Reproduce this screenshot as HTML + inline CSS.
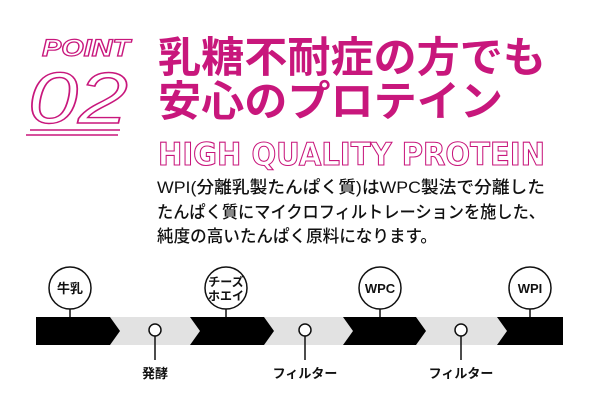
<!DOCTYPE html>
<html><head><meta charset="utf-8"><style>
html,body{margin:0;padding:0;background:#fff;width:600px;height:420px;overflow:hidden}
</style></head><body>
<svg width="600" height="420" viewBox="0 0 600 420" xmlns="http://www.w3.org/2000/svg">
<g font-family="Liberation Sans, Noto Sans CJK JP, sans-serif">
<!-- POINT 02 -->
<text x="42" y="56" font-size="24" font-style="italic" font-weight="bold" fill="#fff" stroke="#c8177c" stroke-width="1.2" textLength="88" lengthAdjust="spacingAndGlyphs">POINT</text>
<text x="28" y="123" font-size="72" font-style="italic" fill="#fff" stroke="#c8177c" stroke-width="1.4" textLength="100" lengthAdjust="spacingAndGlyphs">02</text>
<line x1="30" y1="130" x2="120" y2="130" stroke="#c8177c" stroke-width="1.5"/>
<line x1="26" y1="135" x2="118" y2="135" stroke="#c8177c" stroke-width="1.5"/>
<!-- Title -->
<text x="158" y="72" font-size="42" font-weight="bold" fill="#c8177c" font-family="Noto Sans CJK JP, sans-serif" textLength="388" lengthAdjust="spacingAndGlyphs">乳糖不耐症の方でも</text>
<text x="158" y="116" font-size="42" font-weight="bold" fill="#c8177c" font-family="Noto Sans CJK JP, sans-serif" textLength="345" lengthAdjust="spacingAndGlyphs">安心のプロテイン</text>
<text x="158" y="165" font-size="31" font-weight="bold" fill="#fff" stroke="#c8177c" stroke-width="1.1" font-family="DejaVu Sans, sans-serif" textLength="387" lengthAdjust="spacingAndGlyphs">HIGH QUALITY PROTEIN</text>
<!-- Body -->
<g font-size="17" fill="#111" font-family="Liberation Sans, Noto Sans CJK JP, sans-serif" font-weight="500">
<text x="157" y="193" textLength="388" lengthAdjust="spacingAndGlyphs">WPI(分離乳製たんぱく質)はWPC製法で分離した</text>
<text x="157" y="218" textLength="388" lengthAdjust="spacingAndGlyphs">たんぱく質にマイクロフィルトレーションを施した、</text>
<text x="157" y="242" textLength="280" lengthAdjust="spacingAndGlyphs">純度の高いたんぱく原料になります。</text>
</g>
<!-- Band -->
<g fill="#e2e2e2">
<polygon points="105,317 195,317 205,331 195,345 105,345 115,331"/>
<polygon points="260,317 350,317 360,331 350,345 260,345 270,331"/>
<polygon points="412,317 503,317 513,331 503,345 412,345 422,331"/>
</g>
<g fill="#000">
<polygon points="36,317 110,317 120,331 110,345 36,345"/>
<polygon points="190,317 264,317 274,331 264,345 190,345 200,331"/>
<polygon points="343,317 416,317 426,331 416,345 343,345 353,331"/>
<polygon points="497,317 563,317 563,345 497,345 507,331"/>
</g>
<!-- circles -->
<g stroke="#111" stroke-width="1.5" fill="#fff">
<line x1="70" y1="308" x2="70" y2="317"/><circle cx="70" cy="288" r="21"/>
<line x1="226" y1="308" x2="226" y2="317"/><circle cx="226" cy="288" r="21"/>
<line x1="380" y1="308" x2="380" y2="317"/><circle cx="380" cy="288" r="21"/>
<line x1="530" y1="308" x2="530" y2="317"/><circle cx="530" cy="288" r="21"/>
<line x1="155" y1="336" x2="155" y2="360"/><circle cx="155" cy="330" r="6"/>
<line x1="305" y1="336" x2="305" y2="360"/><circle cx="305" cy="330" r="6"/>
<line x1="461" y1="336" x2="461" y2="360"/><circle cx="461" cy="330" r="6"/>
</g>
<g font-size="13" font-weight="bold" fill="#111" text-anchor="middle" font-family="Liberation Sans, Noto Sans CJK JP, sans-serif">
<text x="70" y="293">牛乳</text>
<text x="226" y="286" font-size="12">チーズ</text>
<text x="226" y="300" font-size="12">ホエイ</text>
<text x="380" y="293">WPC</text>
<text x="530" y="293">WPI</text>
<text x="155" y="378">発酵</text>
<text x="305" y="378">フィルター</text>
<text x="461" y="378">フィルター</text>
</g>
</g>
</svg>
</body></html>
